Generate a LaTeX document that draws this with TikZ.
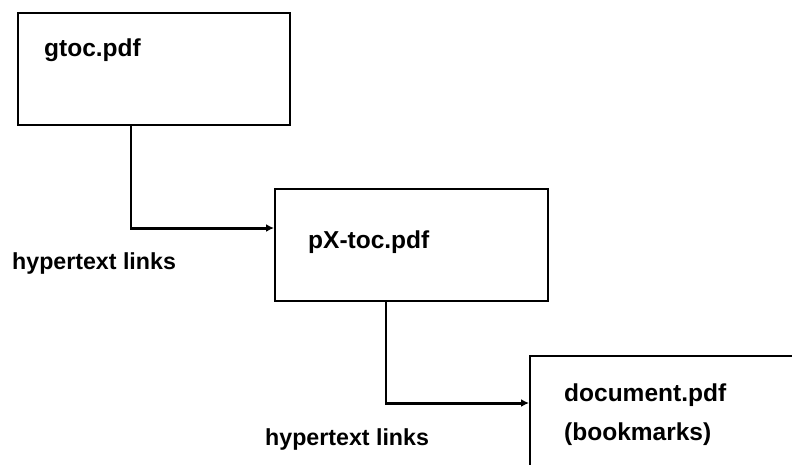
\documentclass[tikz,border=0pt]{standalone}
\usepackage{fontspec}
\setmainfont{Liberation Sans}
\usetikzlibrary{arrows.meta}
\begin{document}
\begin{tikzpicture}[x=1pt,y=-1pt,
  box/.style={draw,line width=1.8pt,anchor=north west,inner sep=0pt},
  lbl/.style={anchor=base west,inner sep=0pt,font=\bfseries\fontsize{24.5}{24.5}\selectfont},
  link/.style={anchor=base west,inner sep=0pt,font=\bfseries\fontsize{23.2}{23.2}\selectfont},
  vseg/.style={line width=2pt},
  conn/.style={line width=3pt,-{Latex[length=8pt,width=8pt]}}]
\useasboundingbox (0,0) rectangle (792,464);
\clip (0,0) rectangle (792,464);
\fill[white] (0,0) rectangle (792,464);
\node[box,minimum width=272pt,minimum height=112pt] (b1) at (17,12) {};
\node[box,minimum width=273pt,minimum height=112pt] (b2) at (274,188) {};
\node[box,minimum width=300pt,minimum height=135pt] (b3) at (529,355) {};
\node[lbl] (t1) at (44,56) {gtoc.pdf};
\node[lbl] (t2) at (308,248) {pX-toc.pdf};
\node[lbl] (t3) at (564,401) {document.pdf};
\node[lbl] (t4) at (564,440) {(bookmarks)};
\node[link] (h1) at (12,269) {hypertext links};
\node[link] (h2) at (265,445) {hypertext links};
\coordinate (c1) at (131,228);
\coordinate (c2) at (386,403);
\draw[vseg] (c1 |- b1.south) -- ([yshift=-1.5pt]c1);
\draw[conn] ([xshift=-1pt]c1) -- (b2.west |- c1);
\draw[vseg] (c2 |- b2.south) -- ([yshift=-1.5pt]c2);
\draw[conn] ([xshift=-1pt]c2) -- (b3.west |- c2);
\end{tikzpicture}
\end{document}
